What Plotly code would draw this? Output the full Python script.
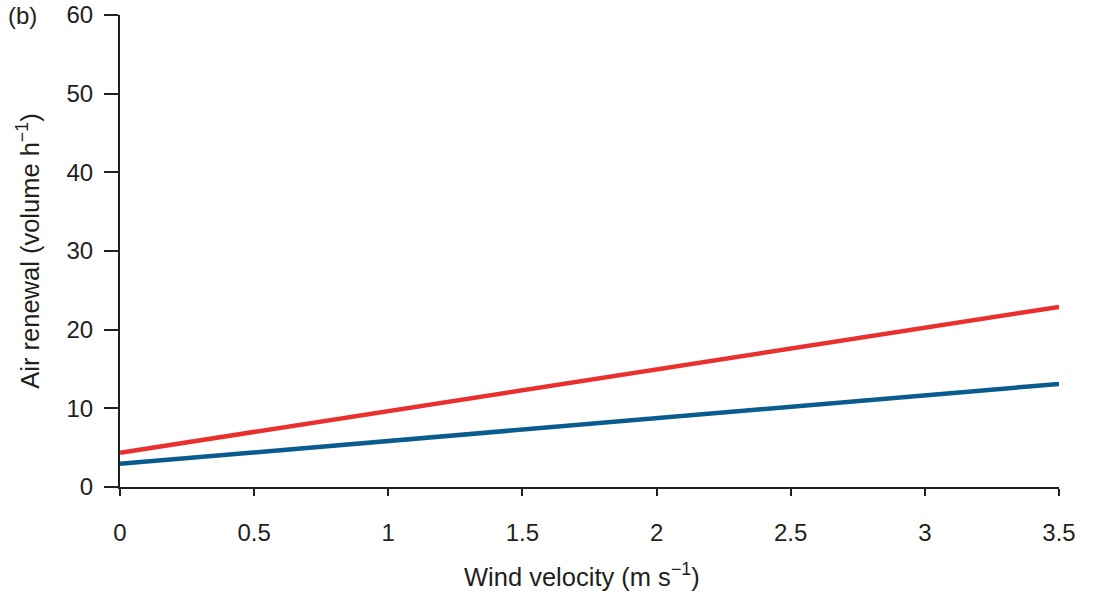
import plotly.graph_objects as go

# Wind velocity (m/s) and air renewal rates (volume per hour) for two cases
wind_velocity = [0, 0.5, 1, 1.5, 2, 2.5, 3, 3.5]
renewal_red = [4.35, 7.0, 9.65, 12.3, 14.95, 17.6, 20.25, 22.9]
renewal_blue = [2.95, 4.4, 5.85, 7.3, 8.75, 10.2, 11.65, 13.1]

x_ticks = [0, 0.5, 1, 1.5, 2, 2.5, 3, 3.5]
x_tick_text = ["0", "0.5", "1", "1.5", "2", "2.5", "3", "3.5"]
y_ticks = [0, 10, 20, 30, 40, 50, 60]

FONT = "Liberation Sans, Arial, sans-serif"
INK = "#231f20"

fig = go.Figure()
fig.add_trace(go.Scatter(x=wind_velocity, y=renewal_red, mode="lines",
                         line=dict(color="#e8312f", width=4.5), cliponaxis=False))
fig.add_trace(go.Scatter(x=wind_velocity, y=renewal_blue, mode="lines",
                         line=dict(color="#0a5c8f", width=4.5), cliponaxis=False))

fig.update_layout(
    width=1093, height=595,
    margin=dict(l=120, r=34, t=15, b=108),
    paper_bgcolor="white", plot_bgcolor="white",
    showlegend=False,
    font=dict(family=FONT, size=24, color=INK),
    xaxis=dict(
        range=[0, 3.5], tickvals=x_ticks, ticktext=x_tick_text, automargin=False,
        showgrid=False, zeroline=False, showline=True, linecolor=INK, linewidth=2,
        ticks="outside", ticklen=7, tickwidth=2, tickcolor=INK,
        ticklabelstandoff=16, tickfont=dict(size=24),
    ),
    yaxis=dict(
        range=[0, 60], tickvals=y_ticks, automargin=False,
        showgrid=False, zeroline=False, showline=True, linecolor=INK, linewidth=2,
        ticks="outside", ticklen=14, tickwidth=2, tickcolor=INK,
        ticklabelstandoff=6, tickfont=dict(size=24),
        title=dict(text="Air renewal (volume h<sup>\u22121</sup>)", standoff=20,
                   font=dict(size=25.5)),
    ),
    annotations=[
        dict(text="(b)", x=0, y=1, xref="paper", yref="paper",
             xshift=-114, yshift=15, xanchor="left", yanchor="top",
             showarrow=False, font=dict(size=24, color=INK)),
        dict(text="Wind velocity (m s<sup>\u22121</sup>)", x=0.5, y=0,
             xref="paper", yref="paper", xshift=-8, yshift=-70,
             xanchor="center", yanchor="top", showarrow=False,
             font=dict(size=25.5, color=INK)),
    ],
)

fig.write_html("out.html")
